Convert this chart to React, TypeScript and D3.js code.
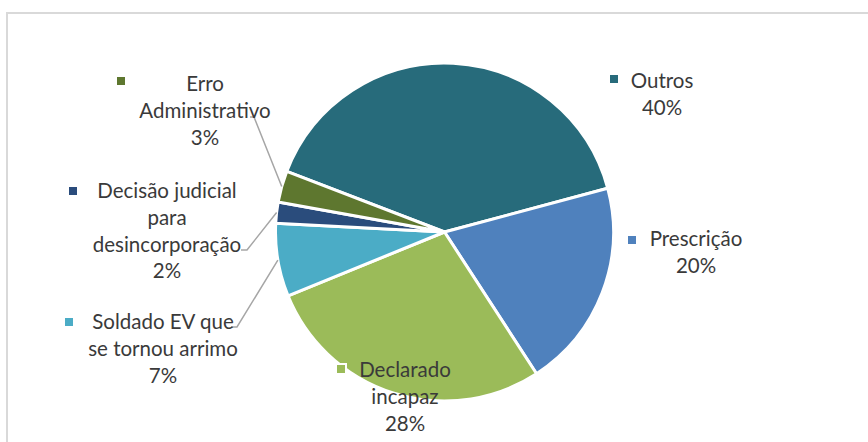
import React from "react";
import * as d3 from "d3";

const categories = [
  "Outros",
  "Prescrição",
  "Declarado incapaz",
  "Soldado EV que se tornou arrimo",
  "Decisão judicial para desincorporação",
  "Erro Administrativo",
];
const values = [40, 20, 28, 7, 2, 3];
const colors = ["#276b7b", "#4f81bd", "#9bbb59", "#4bacc6", "#2a4c7c", "#5e772f"];
const labelLines = [
  ["Outros", "40%"],
  ["Prescrição", "20%"],
  ["Declarado", "incapaz", "28%"],
  ["Soldado EV que", "se tornou arrimo", "7%"],
  ["Decisão judicial", "para", "desincorporação", "2%"],
  ["Erro", "Administrativo", "3%"],
];

// layout of the data labels (center x, first baseline y, marker x/y, leader start)
const labelLayout = [
  { cx: 662, y: 88, mx: 610, my: 75, leader: null },
  { cx: 696, y: 246, mx: 628, my: 236, leader: null },
  { cx: 405, y: 377, mx: 337, my: 365, leader: null, markerBorder: true },
  { cx: 163, y: 329, mx: 65, my: 318, leader: [[231, 327], [237, 327]] },
  { cx: 167, y: 198, mx: 69, my: 187, leader: [[241, 250], [247, 250]] },
  { cx: 205, y: 91, mx: 117, my: 77, leader: [[250, 117], [254, 117]] },
];

const W = 868;
const H = 442;
const CX = 444.5;
const CY = 232;
const R = 169;
const START = (-69 * Math.PI) / 180;
const FONT = "Lato, 'DejaVu Sans', sans-serif";
const FS = 20.5;
const LH = 26.8;

export default function App() {
  const data = categories.map((c, i) => ({ c, v: values[i], i }));
  const pie = d3
    .pie<any>()
    .sort(null)
    .value((d) => d.v)
    .startAngle(START)
    .endAngle(START + 2 * Math.PI);
  const arcs = pie(data);
  const arc = d3.arc<any>().innerRadius(0).outerRadius(R);
  const line = d3.line();

  return (
    <svg
      width={W}
      height={H}
      style={{ position: "absolute", left: 0, top: 0, background: "#fff" }}
    >
      <rect x={7} y={13} width={W + 20} height={H + 20} fill="#fff" stroke="#d9d9d9" strokeWidth={2} />
      <g transform={`translate(${CX},${CY})`}>
        {arcs.map((a, i) => (
          <path key={i} d={arc(a) as string} fill={colors[i]} stroke="#fff" strokeWidth={3} strokeLinejoin="round" />
        ))}
      </g>
      {arcs.map((a, i) => {
        const L = labelLayout[i];
        if (!L.leader) return null;
        const mid = (a.startAngle + a.endAngle) / 2;
        const end: [number, number] = [CX + R * Math.sin(mid), CY - R * Math.cos(mid)];
        const pts = [...(L.leader as [number, number][]), end];
        return <path key={"l" + i} d={line(pts) as string} fill="none" stroke="#a6a6a6" strokeWidth={1.5} />;
      })}
      {arcs.map((a, i) => {
        const L = labelLayout[i];
        return (
          <g key={"t" + i}>
            {L.markerBorder ? (
              <rect x={L.mx - 2} y={L.my - 2} width={12} height={12} fill="#fff" />
            ) : null}
            <rect x={L.mx} y={L.my} width={8} height={8} fill={colors[i]} />
            <text
              x={L.cx}
              y={L.y}
              textAnchor="middle"
              fontFamily={FONT}
              fontSize={FS}
              fill="#3a3a3a"
            >
              {labelLines[i].map((t, k) => (
                <tspan key={k} x={L.cx} y={L.y + k * LH}>
                  {t}
                </tspan>
              ))}
            </text>
          </g>
        );
      })}
    </svg>
  );
}
